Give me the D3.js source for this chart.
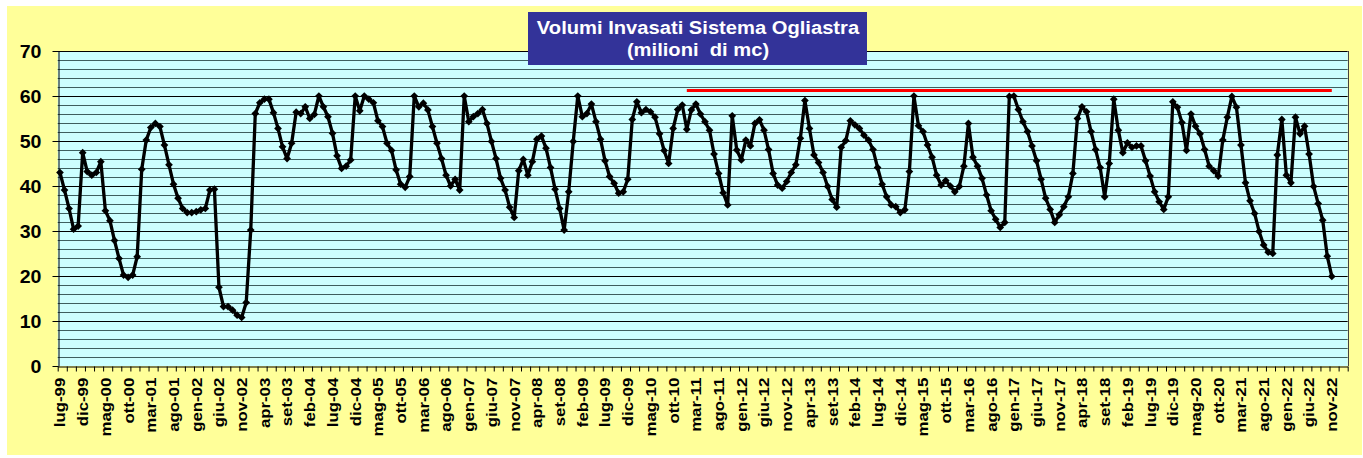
<!DOCTYPE html>
<html>
<head>
<meta charset="utf-8">
<script src="https://cdn.jsdelivr.net/npm/d3@7"></script>
<style>
  body { margin: 0; background: #fff; }
  svg { display: block; font-family: Arial, "Liberation Sans", sans-serif; }
</style>
</head>
<body>
<svg id="chart" width="1363" height="458"></svg>
<script>
// month names used for the category labels (Italian)
const monthNames = ["gen", "feb", "mar", "apr", "mag", "giu", "lug", "ago", "set", "ott", "nov", "dic"];
const firstMonth = { year: 1999, month: 6 };   // lug-99
const categoryCount = 284;                     // axis runs on to feb-23

// volumi invasati, milioni di mc, monthly from lug-99 to nov-22
const volumes = [
  43.0, 39.1, 35.0, 30.4, 31.1, 47.4, 43.2, 42.4, 43.0, 45.4,
  34.5, 32.3, 27.9, 23.9, 20.2, 19.7, 20.2, 24.3, 43.7, 50.2,
  53.0, 53.9, 53.2, 49.1, 44.7, 40.4, 37.3, 35.0, 34.1, 34.1,
  34.3, 34.7, 35.0, 39.1, 39.3, 17.5, 13.2, 13.2, 12.4, 11.3,
  10.8, 14.1, 30.2, 56.1, 58.5, 59.3, 59.3, 56.3, 52.8, 48.7,
  46.1, 49.5, 56.4, 56.1, 57.6, 55.0, 55.9, 60.0, 57.6, 55.4,
  51.7, 46.7, 43.9, 44.4, 45.8, 60.0, 56.7, 60.0, 59.3, 58.5,
  54.5, 53.2, 49.5, 47.9, 43.6, 40.4, 39.7, 42.1, 60.0, 57.6,
  58.4, 56.9, 53.2, 49.5, 46.1, 42.4, 40.0, 41.5, 39.1, 60.0,
  54.3, 55.4, 56.1, 57.0, 53.9, 49.9, 46.1, 41.7, 39.1, 35.3,
  33.0, 43.4, 45.9, 42.4, 45.4, 50.4, 51.1, 48.4, 44.1, 39.3,
  35.0, 30.2, 38.7, 49.9, 60.0, 55.4, 56.1, 58.2, 54.3, 50.4,
  45.6, 42.1, 40.6, 38.4, 38.7, 41.5, 54.8, 58.7, 56.3, 57.0,
  56.5, 55.3, 51.6, 47.9, 45.0, 52.8, 57.0, 58.0, 52.6, 56.9,
  58.2, 56.0, 54.3, 52.4, 47.1, 42.8, 38.5, 35.8, 55.6, 48.0,
  45.8, 50.2, 48.9, 53.9, 54.7, 52.4, 48.1, 42.8, 40.2, 39.5,
  41.0, 43.0, 44.7, 50.6, 59.0, 52.8, 46.9, 45.2, 43.0, 39.9,
  37.0, 35.3, 48.6, 50.1, 54.5, 53.6, 52.8, 51.3, 50.2, 48.1,
  44.1, 40.4, 37.6, 35.8, 35.4, 34.1, 34.7, 43.2, 60.0, 53.4,
  52.1, 49.1, 46.4, 42.4, 40.2, 41.2, 40.0, 38.7, 39.9, 44.4,
  53.9, 46.4, 44.4, 41.7, 38.0, 34.5, 32.6, 30.8, 31.9, 59.9,
  60.0, 57.0, 54.3, 52.1, 48.9, 45.6, 41.5, 37.3, 34.8, 31.9,
  33.6, 35.4, 37.6, 42.8, 55.0, 57.6, 56.5, 52.1, 48.1, 44.1,
  37.6, 45.0, 59.3, 52.4, 47.4, 49.6, 48.6, 48.9, 48.9, 45.6,
  42.2, 38.7, 36.5, 34.8, 37.6, 58.7, 57.5, 54.1, 47.9, 56.0,
  53.3, 51.6, 48.1, 44.4, 43.4, 42.2, 50.2, 55.3, 59.9, 57.5,
  49.1, 40.7, 36.7, 33.9, 29.9, 26.9, 25.3, 25.0, 46.9, 54.8,
  42.4, 40.7, 55.3, 51.6, 53.3, 47.1, 39.9, 36.1, 32.4, 24.4,
  19.9
];

// red reference line
const refValue = 61.2;
const refFrom = "gen-11";
const refTo = "nov-22";

const yTicks = [0, 10, 20, 30, 40, 50, 60, 70];
const titleLines = ["Volumi Invasati Sistema Ogliastra", "(milioni  di mc)"];

const categories = d3.range(categoryCount).map(i => {
  const m = firstMonth.month + i;
  const yr = (firstMonth.year + Math.floor(m / 12)) % 100;
  return `${monthNames[m % 12]}-${String(yr).padStart(2, "0")}`;
});

const svg = d3.select("#chart");
const plot = { left: 57.7, right: 1347.7, top: 51, bottom: 366 };

// chart area
svg.append("rect")
  .attr("x", 7).attr("y", 6).attr("width", 1355).attr("height", 449)
  .attr("fill", "#ffff99");

const x = d3.scaleBand().domain(categories).range([plot.left, plot.right]);
const xc = c => x(c) + x.bandwidth() / 2;
const y = d3.scaleLinear().domain([0, 70]).range([plot.bottom, plot.top]);

svg.append("rect")
  .attr("x", plot.left).attr("y", plot.top)
  .attr("width", plot.right - plot.left).attr("height", plot.bottom - plot.top)
  .attr("fill", "#ccffff");

// gridlines every 2
svg.append("g")
  .selectAll("line")
  .data(d3.range(2, 71, 2))
  .join("line")
  .attr("x1", plot.left).attr("x2", plot.right)
  .attr("y1", d => Math.round(y(d)) + 0.5).attr("y2", d => Math.round(y(d)) + 0.5)
  .attr("stroke", d => d % 10 === 0 ? "#000" : "#3d5f5f")
  .attr("stroke-width", 1);

svg.append("line")
  .attr("x1", Math.round(plot.right) + 0.5).attr("x2", Math.round(plot.right) + 0.5)
  .attr("y1", plot.top).attr("y2", plot.bottom)
  .attr("stroke", "#444");

// y axis
const yAxis = svg.append("g")
  .attr("transform", `translate(${Math.round(plot.left) + 0.5},0)`)
  .call(d3.axisLeft(y).tickValues(yTicks).tickSize(6).tickSizeOuter(0));
yAxis.select(".domain").attr("stroke", "#000");
yAxis.selectAll(".tick line").attr("stroke", "#000");
yAxis.selectAll(".tick text")
  .attr("x", null)
  .attr("dy", "0.36em")
  .attr("transform", "translate(-17,0) scale(1.12,1)")
  .attr("text-anchor", "end")
  .style("font-size", "17.5px")
  .style("font-weight", "bold")
  .attr("fill", "#000");

// x axis: tick marks every two months
const xi = d3.scaleLinear().domain([0, categoryCount]).range([plot.left, plot.right]);
const xTickAxis = svg.append("g")
  .attr("transform", `translate(0,${plot.bottom + 0.5})`)
  .call(d3.axisBottom(xi).tickValues(d3.range(0, categoryCount + 1, 2)).tickSize(5).tickSizeOuter(0).tickFormat(""));
xTickAxis.select(".domain").attr("stroke", "#000");
xTickAxis.selectAll(".tick line").attr("stroke", "#000");

// x labels every five months
const xLabelAxis = svg.append("g")
  .attr("transform", `translate(0,${plot.bottom})`)
  .call(d3.axisBottom(x).tickValues(categories.filter((c, i) => i % 5 === 0 && i < volumes.length)).tickSize(0));
xLabelAxis.select(".domain").remove();
xLabelAxis.selectAll(".tick text")
  .attr("y", null)
  .attr("x", -10.5)
  .attr("dy", "0.36em")
  .attr("transform", "rotate(-90) scale(1.12,1)")
  .attr("text-anchor", "end")
  .style("font-size", "15px")
  .style("font-weight", "bold")
  .attr("fill", "#000");

// red reference line
const refCats = categories.slice(categories.indexOf(refFrom), categories.indexOf(refTo) + 1);
svg.append("path")
  .datum(refCats)
  .attr("fill", "none")
  .attr("stroke", "#ff0000")
  .attr("stroke-width", 3)
  .attr("d", d3.line().x(c => xc(c)).y(() => y(refValue)));

// volume series
const series = volumes.map((v, i) => ({ c: categories[i], v }));
svg.append("path")
  .datum(series)
  .attr("fill", "none")
  .attr("stroke", "#000")
  .attr("stroke-width", 3.3)
  .attr("stroke-linejoin", "round")
  .attr("d", d3.line().x(d => xc(d.c)).y(d => y(d.v)));

const diamond = d3.symbol(d3.symbolSquare, 30)();
svg.append("g")
  .selectAll("path")
  .data(series)
  .join("path")
  .attr("d", diamond)
  .attr("transform", d => `translate(${xc(d.c)},${y(d.v)}) rotate(45)`)
  .attr("fill", "#000");

// title box
svg.append("rect")
  .attr("x", 528).attr("y", 12).attr("width", 339).attr("height", 53)
  .attr("fill", "#333399");
svg.append("g")
  .selectAll("text")
  .data(titleLines)
  .join("text")
  .attr("transform", (d, i) => `translate(698,${33.5 + i * 22}) scale(1.09,1)`)
  .attr("text-anchor", "middle")
  .style("white-space", "pre")
  .attr("xml:space", "preserve")
  .style("font-size", "18.5px")
  .style("font-weight", "bold")
  .attr("fill", "#fff")
  .text(d => d);
</script>
</body>
</html>
